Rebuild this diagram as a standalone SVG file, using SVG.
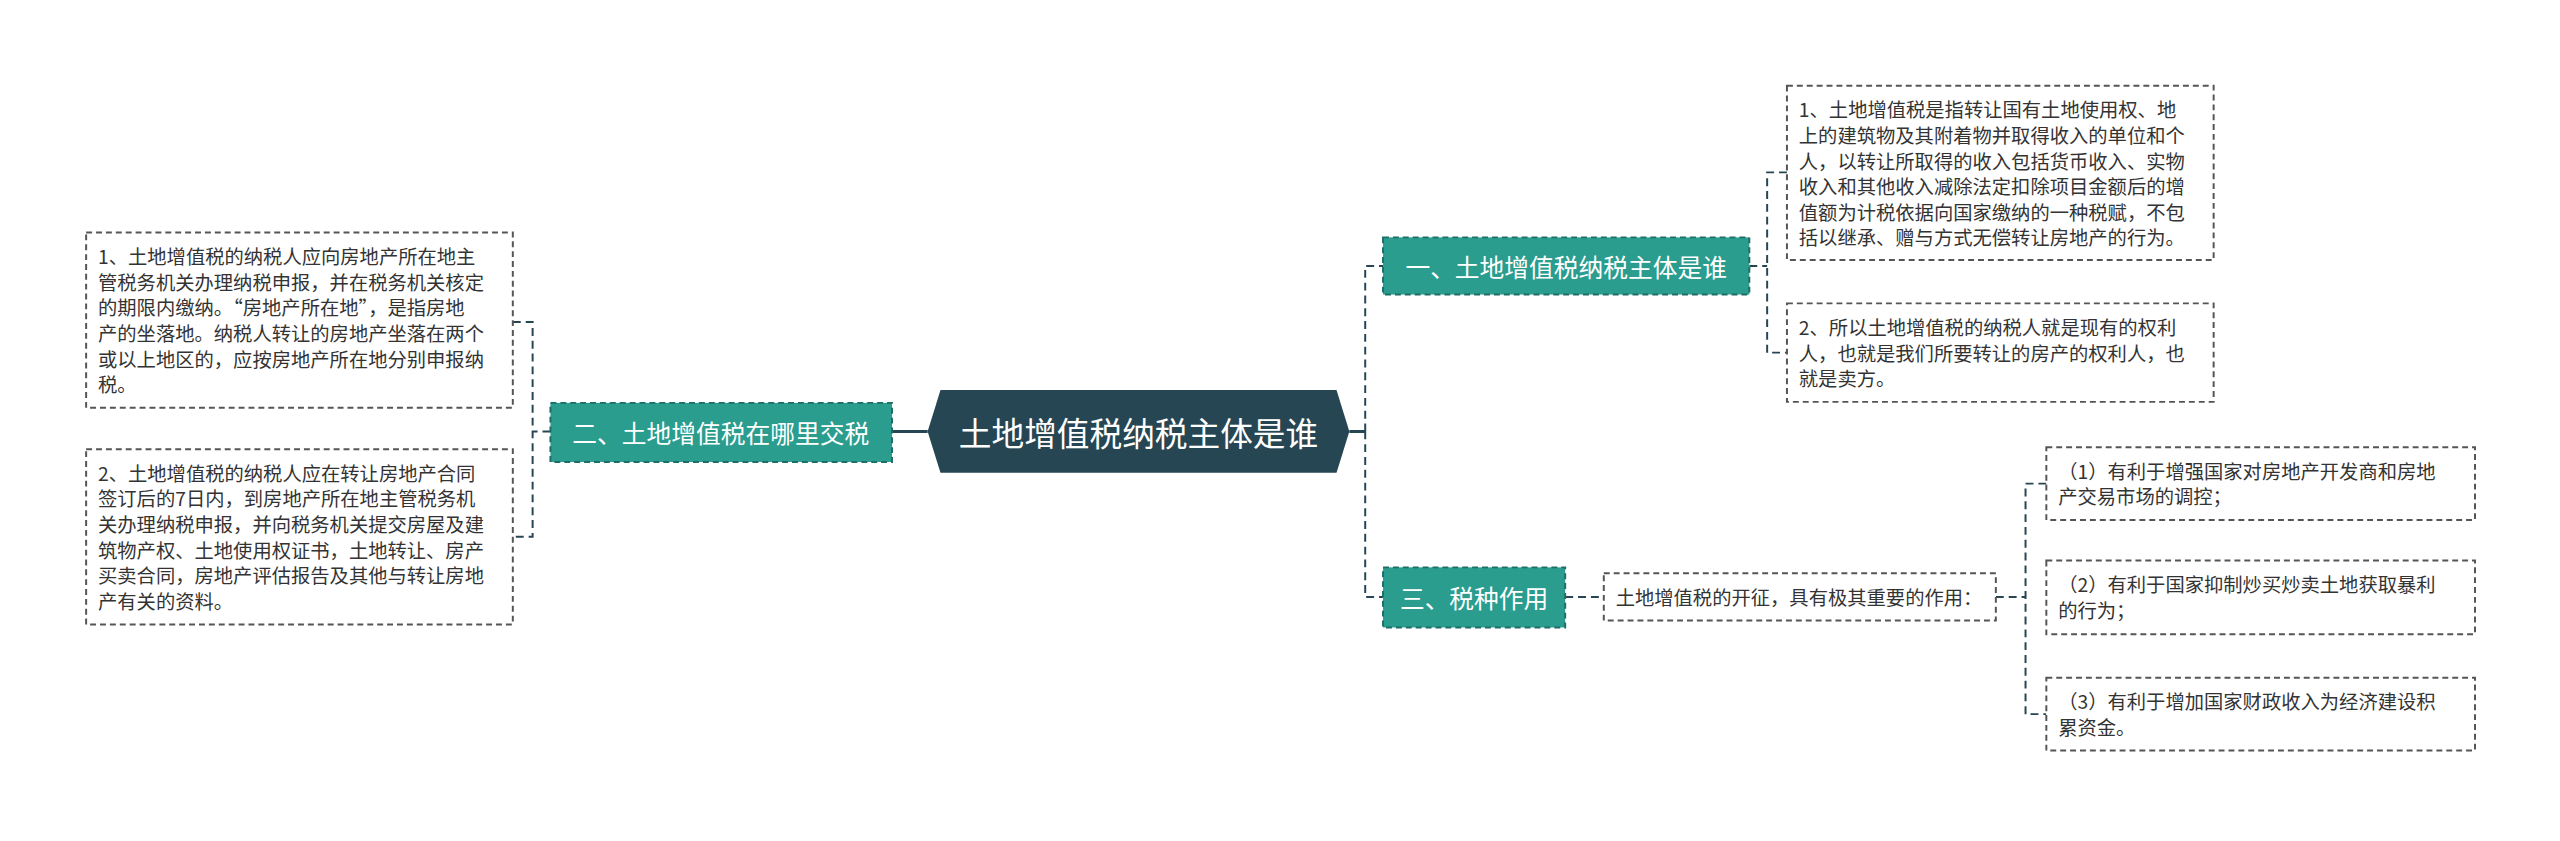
<svg xmlns="http://www.w3.org/2000/svg" width="2560" height="841" viewBox="0 0 2560 841">
<style>
text{font-family:"Noto Sans CJK SC","Liberation Sans",sans-serif}
.b{fill:#2a9d8f;stroke:#1d6e66;stroke-width:2;stroke-dasharray:6 4}
.bt{fill:#fff;font-size:25px;dominant-baseline:central}
.l{fill:#fff;stroke:#555;stroke-width:2;stroke-dasharray:6 4}
.lt{fill:#333;font-size:19.5px;dominant-baseline:central}
.c{fill:none;stroke:#264653;stroke-width:2;stroke-dasharray:8 5}
.s{fill:none;stroke:#264653;stroke-width:3}
</style>
<rect width="2560" height="841" fill="#fff"/>
<g transform="scale(0.99 0.985)">
<g id="connectors">
<path class="s" d="M937 438H901M1363 438H1379"/>
<path class="c" d="M556 438H538M518 327H538V545H518"/>
<path class="c" d="M1379 438V270H1397M1379 438V606H1397"/>
<path class="c" d="M1767 270H1785M1805 175H1785V358H1805"/>
<path class="c" d="M1581 606H1620M2016 606H2046M2067 491H2046V725H2067"/>
</g>
<g id="center">
<polygon points="950,396 1350,396 1363,438 1350,480 950,480 937,438" fill="#264653"/>
<text x="1150" y="438" text-anchor="middle" fill="#fff" font-size="33" dominant-baseline="central">土地增值税纳税主体是谁</text>
</g>
<g id="b2"><rect class="b" x="556" y="409" width="345" height="60"/><text class="bt" x="728" y="439" text-anchor="middle">二、土地增值税在哪里交税</text></g>
<g id="b1"><rect class="b" x="1397" y="241" width="370" height="58"/><text class="bt" x="1582" y="270" text-anchor="middle">一、土地增值税纳税主体是谁</text></g>
<g id="b3"><rect class="b" x="1397" y="576" width="184" height="61"/><text class="bt" x="1489" y="606" text-anchor="middle">三、税种作用</text></g>
<g id="l1"><rect class="l" x="87" y="236" width="431" height="178"/>
<text class="lt" x="99" y="260">1、土地增值税的纳税人应向房地产所在地主</text>
<text class="lt" x="99" y="286">管税务机关办理纳税申报，并在税务机关核定</text>
<text class="lt" x="99" y="312">的期限内缴纳。“房地产所在地”，是指房地</text>
<text class="lt" x="99" y="338">产的坐落地。纳税人转让的房地产坐落在两个</text>
<text class="lt" x="99" y="364">或以上地区的，应按房地产所在地分别申报纳</text>
<text class="lt" x="99" y="390">税。</text></g>
<g id="l2"><rect class="l" x="87" y="456" width="431" height="178"/>
<text class="lt" x="99" y="480">2、土地增值税的纳税人应在转让房地产合同</text>
<text class="lt" x="99" y="506">签订后的7日内，到房地产所在地主管税务机</text>
<text class="lt" x="99" y="532">关办理纳税申报，并向税务机关提交房屋及建</text>
<text class="lt" x="99" y="558">筑物产权、土地使用权证书，土地转让、房产</text>
<text class="lt" x="99" y="584">买卖合同，房地产评估报告及其他与转让房地</text>
<text class="lt" x="99" y="610">产有关的资料。</text></g>
<g id="r1"><rect class="l" x="1805" y="87" width="431" height="177"/>
<text class="lt" x="1817" y="111">1、土地增值税是指转让国有土地使用权、地</text>
<text class="lt" x="1817" y="137">上的建筑物及其附着物并取得收入的单位和个</text>
<text class="lt" x="1817" y="163">人，以转让所取得的收入包括货币收入、实物</text>
<text class="lt" x="1817" y="189">收入和其他收入减除法定扣除项目金额后的增</text>
<text class="lt" x="1817" y="215">值额为计税依据向国家缴纳的一种税赋，不包</text>
<text class="lt" x="1817" y="241">括以继承、赠与方式无偿转让房地产的行为。</text></g>
<g id="r2"><rect class="l" x="1805" y="308" width="431" height="100"/>
<text class="lt" x="1817" y="332">2、所以土地增值税的纳税人就是现有的权利</text>
<text class="lt" x="1817" y="358">人，也就是我们所要转让的房产的权利人，也</text>
<text class="lt" x="1817" y="384">就是卖方。</text></g>
<g id="m"><rect class="l" x="1620" y="582" width="396" height="48"/>
<text class="lt" x="1632" y="606">土地增值税的开征，具有极其重要的作用：</text></g>
<g id="p1"><rect class="l" x="2067" y="454" width="433" height="74"/>
<text class="lt" x="2079" y="478">（1）有利于增强国家对房地产开发商和房地</text>
<text class="lt" x="2079" y="504">产交易市场的调控；</text></g>
<g id="p2"><rect class="l" x="2067" y="569" width="433" height="75"/>
<text class="lt" x="2079" y="593">（2）有利于国家抑制炒买炒卖土地获取暴利</text>
<text class="lt" x="2079" y="619">的行为；</text></g>
<g id="p3"><rect class="l" x="2067" y="688" width="433" height="74"/>
<text class="lt" x="2079" y="712">（3）有利于增加国家财政收入为经济建设积</text>
<text class="lt" x="2079" y="738">累资金。</text></g>
</g>
</svg>
